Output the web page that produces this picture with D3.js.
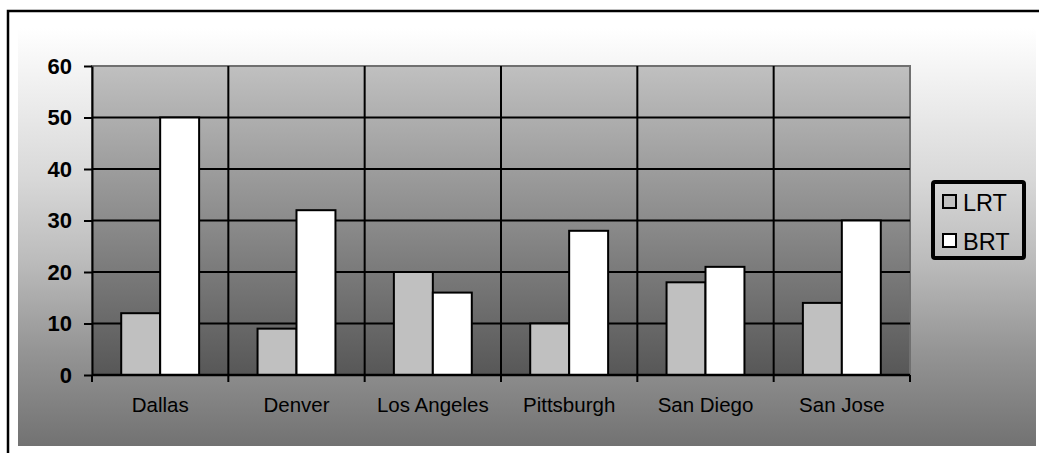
<!DOCTYPE html>
<html>
<head>
<meta charset="utf-8">
<script src="https://cdn.jsdelivr.net/npm/d3@7"></script>
<style>
  html, body { margin: 0; padding: 0; background: #fff; }
  svg { display: block; font-family: "Liberation Sans", Arial, sans-serif; }
</style>
</head>
<body>
<svg id="chart" width="1039" height="453"></svg>
<script>
// Transit ridership comparison by city
const categories = ["Dallas", "Denver", "Los Angeles", "Pittsburgh", "San Diego", "San Jose"];
const seriesNames = ["LRT", "BRT"];
const lrtValues = [12, 9, 20, 10, 18, 14];
const brtValues = [50, 32, 16, 28, 21, 30];
const yTicks = [0, 10, 20, 30, 40, 50, 60];
const seriesFill = ["#c0c0c0", "#ffffff"];

const svg = d3.select("#chart");
const defs = svg.append("defs");

// Background gradient of the chart area
const bgGrad = defs.append("linearGradient").attr("id", "bgGrad")
  .attr("x1", 0).attr("y1", 0).attr("x2", 0).attr("y2", 1);
[[0, "#ffffff"], [0.36, "#d8d8d8"], [0.56, "#bbbbbb"], [0.77, "#959595"], [1, "#727272"]]
  .forEach(([o, c]) => bgGrad.append("stop").attr("offset", o).attr("stop-color", c));

// Plot area gradient
const plotGrad = defs.append("linearGradient").attr("id", "plotGrad")
  .attr("x1", 0).attr("y1", 0).attr("x2", 0).attr("y2", 1);
[[0, "#c0c0c0"], [1, "#575757"]]
  .forEach(([o, c]) => plotGrad.append("stop").attr("offset", o).attr("stop-color", c));

// Outer frame
svg.append("rect").attr("x", 18).attr("y", 28).attr("width", 1018).attr("height", 418)
  .attr("fill", "url(#bgGrad)");
svg.append("rect").attr("x", 8).attr("y", 11).attr("width", 1100).attr("height", 500)
  .attr("fill", "none").attr("stroke", "#000").attr("stroke-width", 2.5);

const plot = { left: 92, right: 910, top: 66, bottom: 375 };

const x0 = d3.scaleBand().domain(categories).range([plot.left, plot.right])
  .paddingInner(0).paddingOuter(0);
const x1 = d3.scaleBand().domain(seriesNames).range([0, x0.bandwidth()])
  .paddingInner(0).paddingOuter(0.75);
const y = d3.scaleLinear().domain([0, 60]).range([plot.bottom, plot.top]);

// Plot background
svg.append("rect")
  .attr("x", plot.left).attr("y", plot.top)
  .attr("width", plot.right - plot.left).attr("height", plot.bottom - plot.top)
  .attr("fill", "url(#plotGrad)")
  .attr("stroke", "#707070").attr("stroke-width", 2);

// Horizontal gridlines
svg.append("g").selectAll("line")
  .data(yTicks.filter(d => d > 0 && d < 60))
  .join("line")
  .attr("x1", plot.left).attr("x2", plot.right)
  .attr("y1", d => y(d)).attr("y2", d => y(d))
  .attr("stroke", "#000").attr("stroke-width", 2);

// Vertical gridlines at category boundaries
const bounds = categories.map(c => x0(c)).concat([plot.right]);
svg.append("g").selectAll("line")
  .data(bounds.slice(1, -1))
  .join("line")
  .attr("x1", d => d).attr("x2", d => d)
  .attr("y1", plot.top).attr("y2", plot.bottom)
  .attr("stroke", "#000").attr("stroke-width", 2);

// Bars
const rows = categories.map((c, i) => ({ cat: c, vals: [lrtValues[i], brtValues[i]] }));
const groups = svg.append("g").selectAll("g")
  .data(rows).join("g")
  .attr("transform", d => `translate(${x0(d.cat)},0)`);
groups.selectAll("rect")
  .data(d => d.vals.map((v, j) => ({ key: seriesNames[j], v, j })))
  .join("rect")
  .attr("x", d => x1(d.key))
  .attr("width", x1.bandwidth())
  .attr("y", d => y(d.v))
  .attr("height", d => y(0) - y(d.v))
  .attr("fill", d => seriesFill[d.j])
  .attr("stroke", "#000").attr("stroke-width", 2);

// Y axis
const yAxis = svg.append("g").attr("transform", `translate(${plot.left},0)`)
  .call(d3.axisLeft(y).tickValues(yTicks).tickSize(8).tickPadding(12).tickSizeOuter(0));
yAxis.select(".domain").attr("stroke", "#000").attr("stroke-width", 2);
yAxis.selectAll(".tick line").attr("stroke", "#000").attr("stroke-width", 2);
yAxis.selectAll(".tick text")
  .attr("fill", "#000").attr("font-size", 22).attr("font-weight", "bold")
  .attr("font-family", "Liberation Sans, Arial, sans-serif");

// X axis: ticks at category boundaries, labels centered in each band
const xAxis = svg.append("g").attr("transform", `translate(0,${plot.bottom})`);
xAxis.append("line")
  .attr("x1", plot.left).attr("x2", plot.right)
  .attr("stroke", "#000").attr("stroke-width", 2.5);
xAxis.selectAll("line.tk").data(bounds).join("line").attr("class", "tk")
  .attr("x1", d => d).attr("x2", d => d).attr("y1", 0).attr("y2", 7)
  .attr("stroke", "#000").attr("stroke-width", 2);
xAxis.selectAll("text").data(categories).join("text")
  .attr("x", d => x0(d) + x0.bandwidth() / 2)
  .attr("y", 36.5)
  .attr("text-anchor", "middle")
  .attr("font-size", 20.5)
  .attr("fill", "#000")
  .text(d => d);

// Legend
const legend = svg.append("g");
legend.append("rect")
  .attr("x", 933).attr("y", 182).attr("width", 91).attr("height", 76)
  .attr("rx", 2)
  .attr("fill", "none").attr("stroke", "#000").attr("stroke-width", 4);
const items = legend.selectAll("g").data(seriesNames).join("g")
  .attr("transform", (d, i) => `translate(0,${i * 39})`);
items.append("rect")
  .attr("x", 943).attr("y", 195).attr("width", 13).attr("height", 13)
  .attr("fill", (d, i) => seriesFill[i])
  .attr("stroke", "#000").attr("stroke-width", 2);
items.append("text")
  .attr("x", 963).attr("y", 210.5)
  .attr("font-size", 23.5).attr("fill", "#000")
  .text(d => d);
</script>
</body>
</html>
